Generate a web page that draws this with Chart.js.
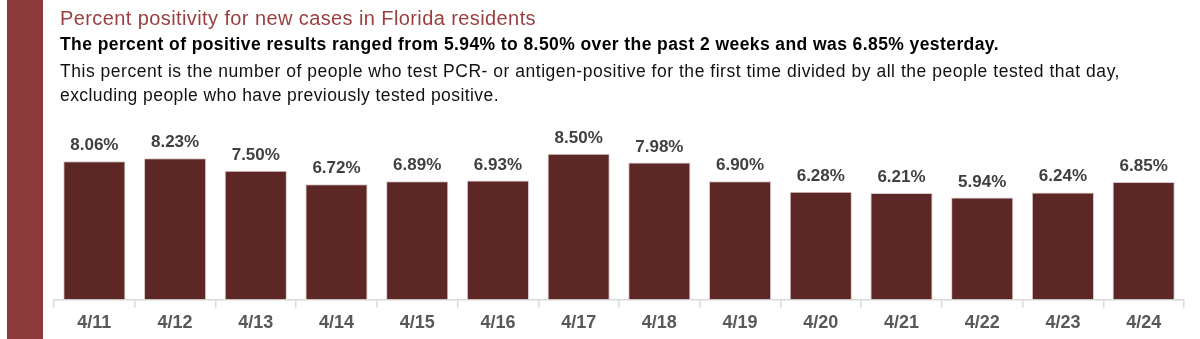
<!DOCTYPE html>
<html>
<head>
<meta charset="utf-8">
<script src="https://cdn.jsdelivr.net/npm/chart.js@4/dist/chart.umd.min.js"></script>
<style>
  html, body { margin: 0; padding: 0; background: #fff; }
  #wrap { position: relative; width: 1200px; height: 339px; overflow: hidden; font-family: "Liberation Sans", Arial, sans-serif; }
  #side { position: absolute; left: 7px; top: 0; width: 36px; height: 339px; background: #8c3a3a; }
  .t { position: absolute; left: 60px; white-space: nowrap; line-height: 1; }
  #title { top: 8.1px; font-size: 20px; color: #9a3f3f; }
  #sub { top: 35.9px; font-size: 17.5px; font-weight: bold; color: #000; }
  #l1 { top: 62.9px; font-size: 17.5px; color: #111; }
  #l2 { top: 86.9px; font-size: 17.5px; color: #111; }
  #c { position: absolute; left: 0; top: 0; }
</style>
</head>
<body>
<div id="wrap">
  <div id="side"></div>
  <canvas id="c" width="1200" height="339"></canvas>
  <div class="t" id="title" data-w="476">Percent positivity for new cases in Florida residents</div>
  <div class="t" id="sub" data-w="939">The percent of positive results ranged from 5.94% to 8.50% over the past 2 weeks and was 6.85% yesterday.</div>
  <div class="t" id="l1" data-w="1060">This percent is the number of people who test PCR- or antigen-positive for the first time divided by all the people tested that day,</div>
  <div class="t" id="l2" data-w="439">excluding people who have previously tested positive.</div>
</div>
<script>
// fit text widths to the reference by letter spacing
document.querySelectorAll('.t').forEach(el => {
  const target = parseFloat(el.dataset.w);
  const w = el.getBoundingClientRect().width;
  const n = el.textContent.length;
  el.style.letterSpacing = ((target - w) / n) + 'px';
});

const categories = ["4/11","4/12","4/13","4/14","4/15","4/16","4/17","4/18","4/19","4/20","4/21","4/22","4/23","4/24"];
const positivity = [8.06, 8.23, 7.50, 6.72, 6.89, 6.93, 8.50, 7.98, 6.90, 6.28, 6.21, 5.94, 6.24, 6.85];

const valueLabels = {
  id: 'valueLabels',
  afterDatasetsDraw(chart) {
    const ctx = chart.ctx;
    const meta = chart.getDatasetMeta(0);
    ctx.save();
    ctx.font = 'bold 17px "Liberation Sans", Arial, sans-serif';
    ctx.fillStyle = '#404040';
    ctx.textAlign = 'center';
    ctx.textBaseline = 'alphabetic';
    meta.data.forEach((bar, i) => {
      ctx.fillText(positivity[i].toFixed(2) + '%', bar.x, bar.y - 11);
    });
    ctx.restore();
  }
};

new Chart(document.getElementById('c'), {
  type: 'bar',
  data: {
    labels: categories,
    datasets: [{
      data: positivity,
      backgroundColor: '#5c2725',
      borderColor: '#d8c8c8',
      borderWidth: 1,
      borderSkipped: 'bottom',
      categoryPercentage: 0.77,
      barPercentage: 1.0
    }]
  },
  options: {
    responsive: false,
    animation: false,
    events: [],
    layout: { padding: { left: 54, right: 16, top: 128, bottom: 0 } },
    plugins: { legend: { display: false }, tooltip: { enabled: false } },
    scales: {
      y: { display: false, min: 0, max: 10 },
      x: {
        offset: true,
        border: { display: true, color: '#d9d9d9', width: 1.5 },
        grid: { display: true, offset: true, drawOnChartArea: false, drawTicks: true, tickLength: 8, color: '#d9d9d9', lineWidth: 1.5 },
        ticks: { color: '#595959', font: { family: '"Liberation Sans", Arial, sans-serif', size: 18, weight: 'bold' }, padding: 5 }
      }
    }
  },
  plugins: [valueLabels]
});
</script>
</body>
</html>
